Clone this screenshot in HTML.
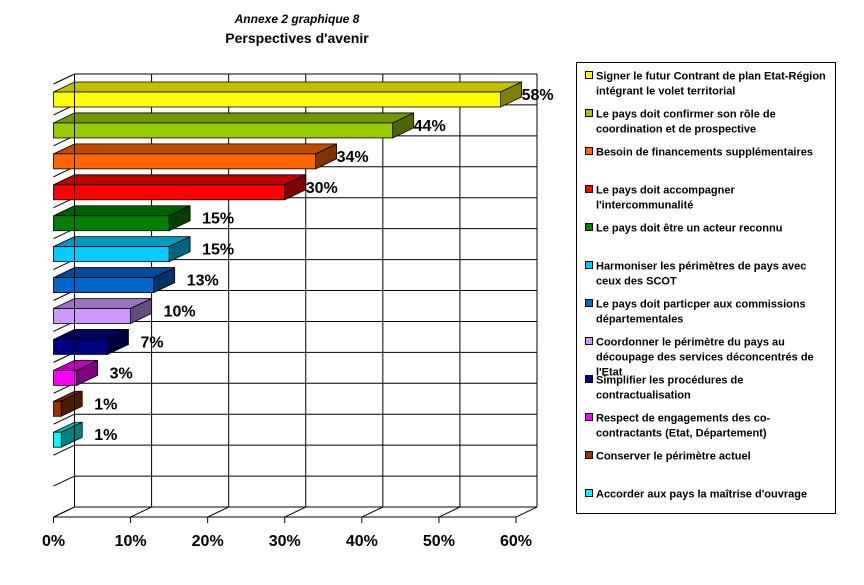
<!DOCTYPE html>
<html><head><meta charset="utf-8">
<style>
body{margin:0;background:#fff;width:864px;height:580px;overflow:hidden;font-family:"Liberation Sans",Arial,sans-serif}
</style></head>
<body>
<svg id="chart" width="864" height="580" xmlns="http://www.w3.org/2000/svg" font-family="Liberation Sans, Arial, sans-serif">
<text x="297" y="23" text-anchor="middle" font-size="12" font-weight="bold" font-style="italic">Annexe 2 graphique 8</text>
<text x="297" y="43" text-anchor="middle" font-size="14" font-weight="bold">Perspectives d'avenir</text>
<g id="grid"></g><g id="bars"></g><g id="axis"></g>
<rect x="576.5" y="62.5" width="259" height="451" fill="#fff" stroke="#000"/>
<g id="legend"></g>
</svg>
<script>
const categories=["Signer le futur Contrant de plan Etat-Région|intégrant le volet territorial","Le pays doit confirmer son rôle de|coordination et de prospective","Besoin de financements supplémentaires","Le pays doit accompagner|l'intercommunalité","Le pays doit être un acteur reconnu","Harmoniser les périmètres de pays avec|ceux des SCOT","Le pays doit particper aux commissions|départementales","Coordonner le périmètre du pays au|découpage des services déconcentrés de|l'Etat","Simplifier les procédures de|contractualisation","Respect de engagements des co-|contractants (Etat, Département)","Conserver le périmètre actuel","Accorder aux pays la maîtrise d'ouvrage"];
const values=[58,44,34,30,15,15,13,10,7,3,1,1];
const valueLabels=["58%","44%","34%","30%","15%","15%","13%","10%","7%","3%","1%","1%"];
const ticks=[0,10,20,30,40,50,60];
const tickLabels=["0%","10%","20%","30%","40%","50%","60%"];
const colors=["#ffff00","#99cc00","#ff6600","#ff0000","#008000","#00ccff","#0066cc","#cc99ff","#000080","#ff00ff","#993300","#00ffff"];
const tops=["#c0c000","#739900","#bf4c00","#bf0000","#006000","#0099bf","#004c99","#9973bf","#000060","#bf00bf","#732600","#00bfbf"];
const sides=["#808000","#4d6600","#803300","#800000","#004000","#006680","#003366","#664d80","#000040","#800080","#4d1a00","#008080"];
const NS="http://www.w3.org/2000/svg";
const X0=53.5,X60=516,DX=21,DY=10,BT=74,ROWH=30.93,NROWS=14;
const xs=v=>X0+v*(X60-X0)/60;
function mk(tag,at,parent){const e=document.createElementNS(NS,tag);for(const k in at)e.setAttribute(k,at[k]);parent.appendChild(e);return e;}
const grid=document.getElementById('grid'),bars=document.getElementById('bars'),axis=document.getElementById('axis'),legend=document.getElementById('legend');
const BB=BT+NROWS*ROWH;
for(let i=0;i<=NROWS;i++){const y=BT+i*ROWH;
const l=mk('line',{x1:xs(0)+DX,y1:y,x2:xs(60)+DX,y2:y,stroke:'#000','stroke-width':1},grid);

const d=mk('line',{x1:X0,y1:y+DY,x2:X0+DX,y2:y,stroke:'#000','stroke-width':1},grid);
}
ticks.forEach((t,i)=>{const x=xs(t);
const v=mk('line',{x1:x+DX,y1:BT,x2:x+DX,y2:BB,stroke:'#000','stroke-width':1},grid);

const f=mk('line',{x1:x,y1:BB+DY,x2:x+DX,y2:BB,stroke:'#000','stroke-width':1},axis);

const tk=mk('line',{x1:x,y1:BB+DY,x2:x,y2:BB+DY+6,stroke:'#000','stroke-width':1},axis);

const tx=mk('text',{x:x,y:546,'text-anchor':'middle','font-size':16,'font-weight':'bold'},axis);
tx.textContent=tickLabels[i];
});
const fl=mk('line',{x1:X0,y1:BB+DY,x2:xs(60),y2:BB+DY,stroke:'#000','stroke-width':1},axis);

const wl=mk('line',{x1:X0+DX,y1:BT,x2:X0+DX,y2:BB,stroke:'#000','stroke-width':1},axis);

values.forEach((v,i)=>{const x1=xs(0),x2=xs(v);const yt=BT+DY+i*ROWH+8,h=15;
const g=mk('g',{},bars);

mk('polygon',{points:`${x1},${yt} ${x1+DX},${yt-DY} ${x2+DX},${yt-DY} ${x2},${yt}`,fill:tops[i],stroke:'#000','stroke-width':0.8},g);
mk('polygon',{points:`${x2},${yt} ${x2+DX},${yt-DY} ${x2+DX},${yt+h-DY} ${x2},${yt+h}`,fill:sides[i],stroke:'#000','stroke-width':0.8},g);
mk('rect',{x:x1,y:yt,width:x2-x1,height:h,fill:colors[i],stroke:'#000','stroke-width':0.8},g);
const t=mk('text',{x:x2+(v<20?33:21),y:yt+8,'font-size':16,'font-weight':'bold'},bars);
t.textContent=valueLabels[i];
});
categories.forEach((c,i)=>{const y=76+i*38;
const g=mk('g',{},legend);

mk('rect',{x:585.5,y:y-4.5,width:7,height:7,fill:colors[i],stroke:'#000','stroke-width':1},g);
c.split('|').forEach((ln,j)=>{const t=mk('text',{x:596,y:y+3.5+j*15,'font-size':11,'font-weight':'bold'},g);t.textContent=ln;});});
</script>
</body></html>
